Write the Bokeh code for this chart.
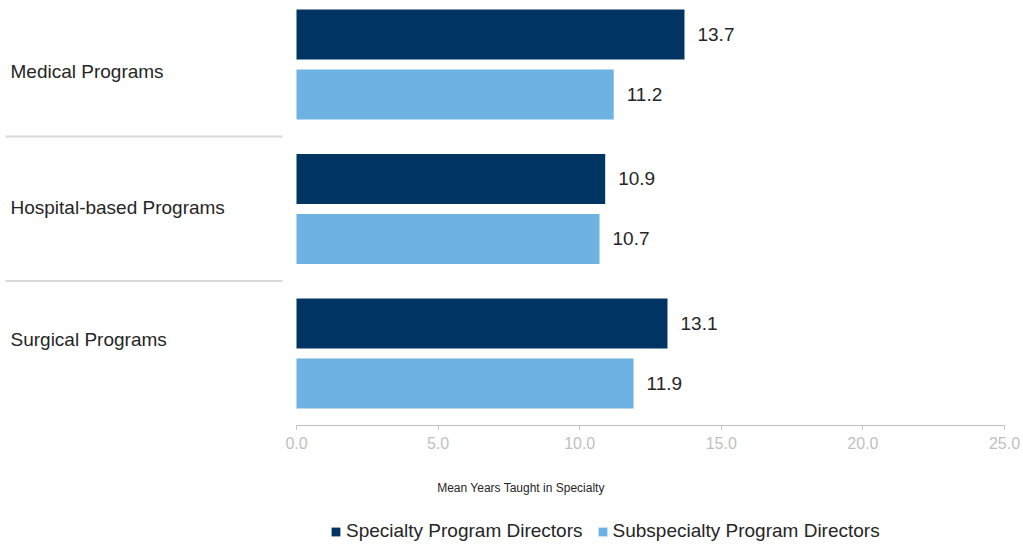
from bokeh.plotting import figure
from bokeh.layouts import column
from bokeh.models import (ColumnDataSource, Range1d, FixedTicker, Legend, LegendItem, Label)
from bokeh.core.properties import value
from bokeh.embed import file_html
from bokeh.resources import INLINE

# ---------------- data ----------------
categories = ["Medical Programs", "Hospital-based Programs", "Surgical Programs"]
specialty = [13.7, 10.9, 13.1]
subspecialty = [11.2, 10.7, 11.9]
series_names = ["Specialty Program Directors", "Subspecialty Program Directors"]
x_ticks = [0, 5, 10, 15, 20, 25]
x_title = "Mean Years Taught in Specialty"

# ---------------- layout / style ----------------
DARK = "#003462"
LIGHT = "#6CB2E2"
TEXT = "#262626"
GRAY = "#BFBFBF"
FONT = "Liberation Sans"

W = 1023
H_MAIN, H_LEG = 460, 84
frame_h = 425
ppu = 708 / 25.0          # pixels per unit along x
x_start = -296 / ppu
x_end = 25 + (W - 1004) / ppu
group_px = 144.5
y_top = frame_h / group_px
label_nudge_px = [7, -1, -14]   # vertical fine placement of category labels (screen px, down)

n = len(categories)
pos = [n - 1 - i for i in range(n)]

src = ColumnDataSource(dict(
    cat=categories,
    pos=pos,
    spec=specialty,
    sub=subspecialty,
    y_spec=[p_ + 0.706 for p_ in pos],
    y_sub=[p_ + 0.291 for p_ in pos],
    y_lab=[p_ + 0.5 for p_ in pos],
    lab_dy=label_nudge_px,
    x_lab=[x_start + 10 / ppu] * n,
    spec_txt=[f"{v:.1f}" for v in specialty],
    sub_txt=[f"{v:.1f}" for v in subspecialty],
))

p = figure(width=W, height=H_MAIN, output_backend="svg", toolbar_location=None,
           x_range=Range1d(x_start, x_end), y_range=Range1d(0, y_top),
           y_axis_location=None, min_border_left=0, min_border_right=0,
           min_border_top=0, min_border_bottom=H_MAIN - frame_h)
p.outline_line_color = None
p.xgrid.grid_line_color = None
p.ygrid.grid_line_color = None

r1 = p.hbar(y="y_spec", left=0, right="spec", height=0.346, source=src,
            fill_color=DARK, line_color=None)
r2 = p.hbar(y="y_sub", left=0, right="sub", height=0.346, source=src,
            fill_color=LIGHT, line_color=None)

# value labels
for xcol, ycol, tcol in (("spec", "y_spec", "spec_txt"), ("sub", "y_sub", "sub_txt")):
    p.text(x=xcol, y=ycol, text=tcol, source=src, x_offset=13,
           text_align="left", text_baseline="middle", text_color=TEXT,
           text_font=value(FONT), text_font_size="19px")

# category labels
p.text(x="x_lab", y="y_lab", text="cat", source=src, y_offset="lab_dy",
       text_align="left", text_baseline="middle", text_color=TEXT,
       text_font=value(FONT), text_font_size="19px")

# separators between categories (label area only)
sep_y = [float(k) for k in range(1, n)]
p.segment(x0=[x_start + 5 / ppu] * len(sep_y), x1=[-14 / ppu] * len(sep_y),
          y0=sep_y, y1=sep_y, line_color="#D9D9D9", line_width=2)

# x axis
ax = p.xaxis[0]
ax.ticker = FixedTicker(ticks=x_ticks)
ax.major_label_overrides = {t: f"{t:.1f}" for t in x_ticks}
ax.bounds = (0, 25)
ax.axis_line_color = GRAY
ax.major_tick_line_color = GRAY
ax.major_tick_in = 0
ax.major_tick_out = 4
ax.minor_tick_line_color = None
ax.major_label_text_color = GRAY
ax.major_label_text_font = FONT
ax.major_label_text_font_size = "16px"
ax.major_label_standoff = 7

# ---------------- axis title + legend strip ----------------
pl = figure(width=W, height=H_LEG, output_backend="svg", toolbar_location=None,
            x_range=Range1d(0, W), y_range=Range1d(0, H_LEG),
            x_axis_location=None, y_axis_location=None,
            min_border=0, min_border_left=0, min_border_right=0,
            min_border_top=0, min_border_bottom=0)
pl.outline_line_color = None
pl.xgrid.grid_line_color = None
pl.ygrid.grid_line_color = None

pl.add_layout(Label(x=520.5, y=H_LEG - 27, text=x_title, text_align="center",
                    text_baseline="middle", text_color=TEXT, text_font=FONT,
                    text_font_size="12px"))

# legend proxies (kept outside the visible range)
proxy = ColumnDataSource(dict(y=[-100], r=[1]))
lr1 = pl.hbar(y="y", right="r", left=0, height=1, source=proxy,
              fill_color=DARK, line_color=None)
lr2 = pl.hbar(y="y", right="r", left=0, height=1, source=proxy,
              fill_color=LIGHT, line_color=None)
legend = Legend(items=[LegendItem(label=series_names[0], renderers=[lr1]),
                       LegendItem(label=series_names[1], renderers=[lr2])],
                orientation="horizontal", location=(330, 2),
                margin=0, padding=0, spacing=14, label_standoff=5,
                glyph_width=11, glyph_height=11, label_height=18,
                label_text_font=FONT, label_text_font_size="19px",
                label_text_color=TEXT,
                background_fill_alpha=0, border_line_color=None)
pl.add_layout(legend)

layout = column(p, pl, spacing=0)
open("out.html", "w").write(file_html(layout, INLINE))
